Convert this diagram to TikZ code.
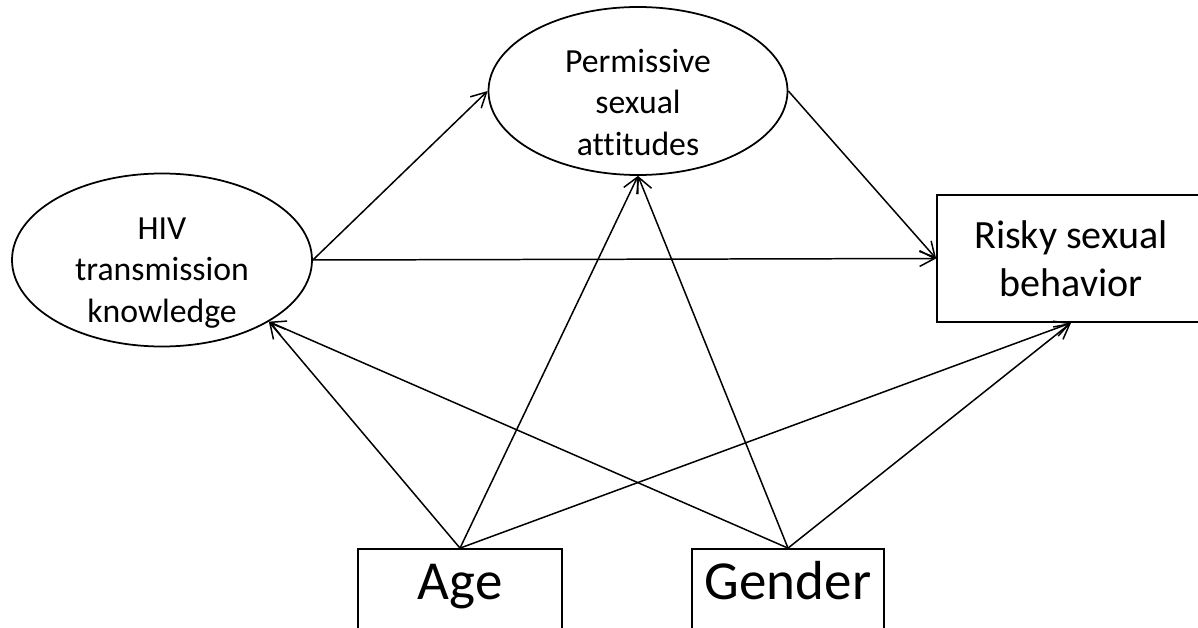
\documentclass[tikz,border=0pt]{standalone}
\usepackage{fontspec}
\setmainfont{Carlito}[Ligatures=NoCommon]
\usetikzlibrary{arrows.meta,shapes.geometric}

\begin{document}
\begin{tikzpicture}[
      latent/.style={draw,ellipse,line width=1pt,inner sep=0pt},
      varbox/.style={draw,rectangle,line width=1pt,inner sep=0pt,align=center},
      lbl/.style={align=center,font=\fontsize{19.2}{23.6}\selectfont,anchor=base},
      big/.style={font=\fontsize{31.3}{36}\selectfont,text height=0.7em,text depth=0.2em},
      arr/.style={-{Straight Barb[length=8.5pt,width=9pt]},line width=0.85pt}
    ]
      \useasboundingbox (0,0) rectangle (23.96,-12.56);
      \node[latent,minimum width=6cm,minimum height=3.46cm] (hiv) at (3.24,-5.20) {};
      \node[lbl] (hivtxt) at (3.24,-6.44) {HIV\\transmission\\knowledge};
      \node[latent,minimum width=5.98cm,minimum height=3.36cm] (psa) at (12.76,-1.82) {};
      \node[lbl] (psatxt) at (12.76,-3.10) {Permissive\\sexual\\attitudes};
      \node[varbox,minimum width=5.36cm,minimum height=2.54cm,font=\fontsize{22.8}{27.3}\selectfont] (risky) at (21.42,-5.17) {Risky sexual\\behavior};
      \node[varbox,big,minimum width=4.08cm,minimum height=1.84cm] (age) at (9.2,-11.9) {Age};
      \node[varbox,big,minimum width=3.84cm,minimum height=1.84cm] (gender) at (15.76,-11.9) {Gender};
      \draw[arr] (hiv.east) -- (psa.west);
      \draw[arr] (hiv.east) -- (risky.west);
      \draw[arr] (psa.east) -- (risky.west);
      \draw[arr] (age.north) -- (hiv.-30);
      \draw[arr] (age.north) -- (psa.south);
      \draw[arr] (age.north) -- (risky.south);
      \draw[arr] (gender.north) -- (hiv.-30);
      \draw[arr] (gender.north) -- (psa.south);
      \draw[arr] (gender.north) -- (risky.south);
    \end{tikzpicture}
\end{document}
